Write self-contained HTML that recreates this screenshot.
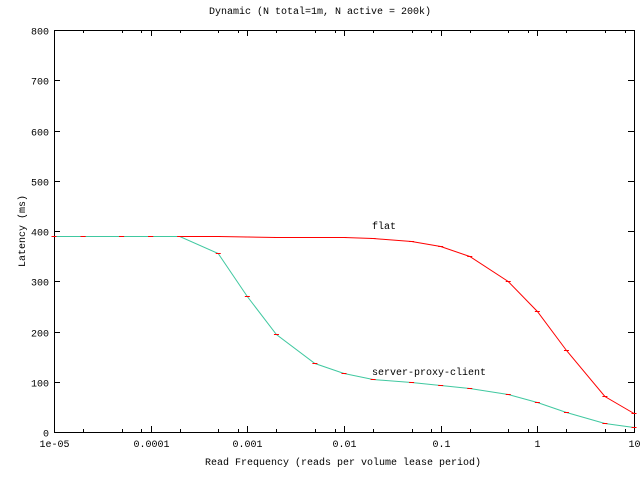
<!DOCTYPE html>
<html><head><meta charset="utf-8"><style>
html,body{margin:0;padding:0;background:#fff;}
svg{display:block;}
text{font-family:"Liberation Mono","DejaVu Sans Mono",monospace;font-size:10px;fill:#000;}
</style></head><body>
<svg id="s" width="640" height="480" xmlns="http://www.w3.org/2000/svg">
<rect width="640" height="480" fill="#fff"/>
<text x="320" y="14" text-anchor="middle">Dynamic (N total=1m, N active = 200k)</text>
<text x="343" y="465" text-anchor="middle">Read Frequency (reads per volume lease period)</text>
<text x="0" y="0" text-anchor="middle" transform="translate(25,231) rotate(-90)">Latency (ms)</text>
<g id="ax" stroke="#000" stroke-width="1" fill="none">
<rect x="54.5" y="30.5" width="580" height="402"/>
</g>
<g id="lab"></g>
<polyline id="flat" fill="none" stroke="#ff0000" stroke-width="1"/>
<polyline id="spc" fill="none" stroke="#40c8a0" stroke-width="1"/>
<g id="pts" stroke="#ff0000" stroke-width="1"></g>
<text x="372" y="229">flat</text>
<text x="372" y="375">server-proxy-client</text>
</svg>
<script>
var NS="http://www.w3.org/2000/svg";
function X(v){return 54+96.67*(Math.log10(v)+5);}
function Y(v){return 432-v*0.5025;}
var ax=document.getElementById('ax'),lab=document.getElementById('lab'),pts=document.getElementById('pts');
function ln(x1,y1,x2,y2,g){var l=document.createElementNS(NS,'line');l.setAttribute('x1',x1);l.setAttribute('y1',y1);l.setAttribute('x2',x2);l.setAttribute('y2',y2);(g||ax).appendChild(l);}
function tx(x,y,s,a){var t=document.createElementNS(NS,'text');t.setAttribute('x',x);t.setAttribute('y',y);t.setAttribute('text-anchor',a);t.textContent=s;lab.appendChild(t);}
for(var i=0;i<=8;i++){var y=Math.round(Y(i*100))+0.5;ln(54,y,60,y);ln(628,y,634,y);tx(49,y+4,String(i*100),'end');}
var xl=['1e-05','0.0001','0.001','0.01','0.1','1','10'];
for(var d=0;d<=6;d++){var v=Math.pow(10,d-5);var x=Math.round(X(v))+0.5;ln(x,432,x,426);ln(x,30,x,36);tx(x,447,xl[d],'middle');
 if(d<6){[2,5,8].forEach(function(m){var xx=Math.round(X(v*m))+0.5;ln(xx,432,xx,429);ln(xx,30,xx,33);});}}
var xs=[1e-5,2e-5,5e-5,1e-4,2e-4,5e-4,1e-3,2e-3,5e-3,0.01,0.02,0.05,0.1,0.2,0.5,1,2,5,10];
var teal=[236,236,236,236,236,253,296,334,363,373,379,382,385,388,394,402,412,423,427];
var red=[236,236,236,236,236,236,236.5,237,237,237,238,241,246,256,281,311,350,396,413];
function pl(id,arr){var p=xs.map(function(v,i){return X(v).toFixed(1)+','+(arr[i]+0.5);}).join(' ');document.getElementById(id).setAttribute('points',p);
 xs.forEach(function(v,i){var x=X(v);ln(x-2.5,arr[i]+0.5,x+2.5,arr[i]+0.5,pts);});}
pl('flat',red);pl('spc',teal);
</script>
</body></html>
